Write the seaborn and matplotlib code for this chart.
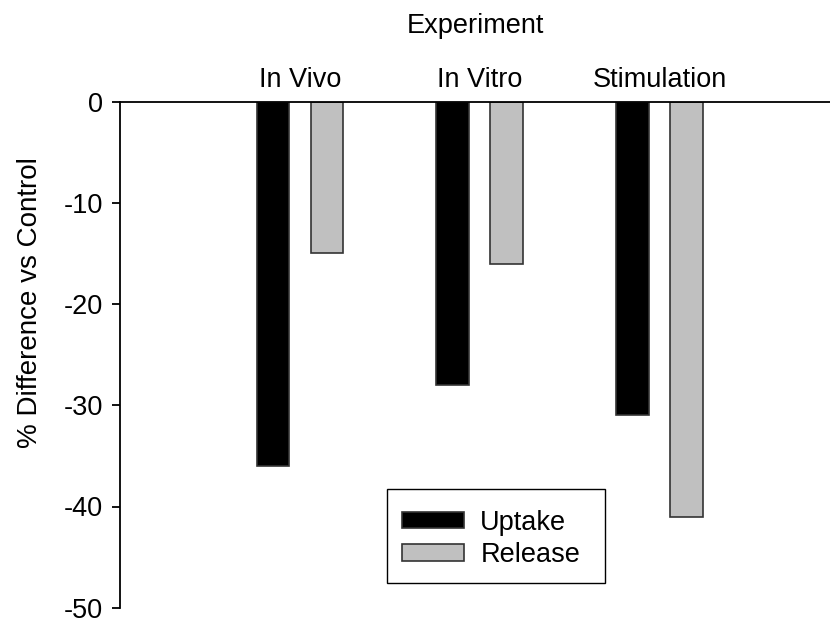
import matplotlib
matplotlib.use("Agg")
import matplotlib.pyplot as plt
from matplotlib.patches import Rectangle
import seaborn as sns
import pandas as pd

# Percent change relative to control for each experiment
experiments = ["In Vivo", "In Vitro", "Stimulation"]
uptake = [-36, -28, -31]
release = [-15, -16, -41]
measures = ["Uptake", "Release"]
y_ticks = [0, -10, -20, -30, -40, -50]

df = pd.DataFrame({
    "Experiment": experiments * 2,
    "Measure": ["Uptake"] * len(experiments) + ["Release"] * len(experiments),
    "Value": uptake + release,
})

sns.set_theme(style="white")
plt.rcParams["font.family"] = ["Liberation Sans", "DejaVu Sans"]
plt.rcParams["text.color"] = "black"
plt.rcParams["axes.labelcolor"] = "black"
plt.rcParams["xtick.color"] = "black"
plt.rcParams["ytick.color"] = "black"
FS = 19.5

fig = plt.figure(figsize=(8.3, 6.22), dpi=100)
ax = fig.add_axes([120 / 830, 1 - 607.7 / 622, 710 / 830, (607.7 - 101.7) / 622])

sns.barplot(
    data=df, x="Experiment", y="Value", hue="Measure",
    order=experiments, hue_order=measures,
    palette={"Uptake": "#000000", "Release": "#C0C0C0"},
    width=0.6, gap=0.39, edgecolor="#333333", linewidth=1.2,
    errorbar=None, ax=ax,
)

ax.set_xlim(-1.0, 2.945)
ax.set_ylim(-50, 0)
ax.set_yticks(y_ticks)
ax.set_yticklabels([str(v) for v in y_ticks], fontsize=FS)

# Category axis sits along the zero line at the top
ax.xaxis.tick_top()
ax.xaxis.set_label_position("top")
ax.tick_params(axis="x", length=0, pad=6, labelsize=FS)
ax.tick_params(axis="y", direction="out", length=6, width=1.3, pad=6, left=True)
ax.set_xlabel("Experiment", fontsize=FS, labelpad=24.5)
ax.set_ylabel("% Difference vs Control", fontsize=20)
ax.yaxis.set_label_coords(-0.1083, 0.604)

for side in ["right", "bottom"]:
    ax.spines[side].set_visible(False)
for side in ["top", "left"]:
    ax.spines[side].set_color("black")
    ax.spines[side].set_linewidth(1.3)
ax.grid(False)

# Legend entries with a separate boxed frame around them
leg = ax.legend(
    loc="upper left", bbox_to_anchor=((401 - 120) / 708, (607.7 - 509.5) / 506),
    fontsize=FS, frameon=False,
    handlelength=2.3, handleheight=0.55, handletextpad=0.6,
    borderpad=0, labelspacing=0.24, borderaxespad=0,
)
frame = Rectangle(
    ((386 - 120) / 708, (607.7 - 583) / 506),
    (604 - 386) / 708, (583 - 489) / 506,
    transform=ax.transAxes, facecolor="white", edgecolor="black",
    linewidth=1.0, zorder=4,
)
ax.add_patch(frame)
leg.set_zorder(5)

fig.savefig("out.png", dpi=100, facecolor="white")
